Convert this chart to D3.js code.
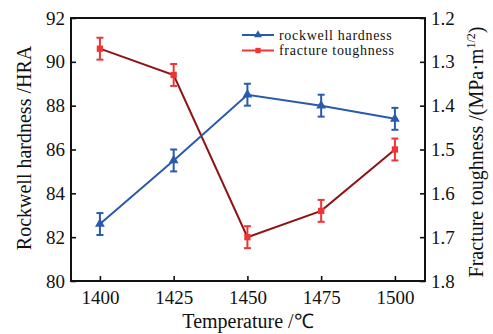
<!DOCTYPE html>
<html>
<head>
<meta charset="utf-8">
<script src="https://cdn.jsdelivr.net/npm/d3@7"></script>
<style>
  html, body { margin: 0; padding: 0; background: #fff; }
  svg { display: block; }
  text { font-family: "Liberation Serif", serif; fill: #111; }
</style>
</head>
<body>
<svg id="chart" width="493" height="334"></svg>
<script>
// Sintering temperature vs. hardness and fracture toughness
const temperatures = [1400, 1425, 1450, 1475, 1500];
const hardness = [82.6, 85.5, 88.5, 88.0, 87.4];
const hardnessErr = [0.5, 0.5, 0.5, 0.5, 0.5];
const toughness = [1.27, 1.33, 1.70, 1.64, 1.50];
const toughnessErr = [0.025, 0.025, 0.025, 0.025, 0.025];
const leftTicks = [80, 82, 84, 86, 88, 90, 92];
const rightTicks = [1.2, 1.3, 1.4, 1.5, 1.6, 1.7, 1.8];
const seriesNames = ["rockwell hardness", "fracture toughness"];

const FONT = '"Liberation Serif", serif';
const svg = d3.select("#chart");
const m = { left: 71, right: 425, top: 18, bottom: 281 };

const x = d3.scaleLinear().domain([1390.2, 1510.2]).range([m.left, m.right]);
const yL = d3.scaleLinear().domain([80, 92]).range([m.bottom, m.top]);
const yR = d3.scaleLinear().domain([1.8, 1.2]).range([m.bottom, m.top]);

const blue = "#2a5aad", red = "#ee3535", darkRed = "#8e1414";

// Axes with inward ticks
const fontSize = "19px";
const gx = svg.append("g").attr("transform", `translate(0,${m.bottom})`)
  .call(d3.axisBottom(x).tickValues(temperatures).tickFormat(d3.format("d"))
    .tickSize(-5).tickPadding(10).tickSizeOuter(0));
const gl = svg.append("g").attr("transform", `translate(${m.left},0)`)
  .call(d3.axisLeft(yL).tickValues(leftTicks).tickSize(-5).tickPadding(6).tickSizeOuter(0));
const gr = svg.append("g").attr("transform", `translate(${m.right},0)`)
  .call(d3.axisRight(yR).tickValues(rightTicks).tickFormat(d3.format(".1f")).tickSize(-5).tickPadding(6).tickSizeOuter(0));
[gx, gl, gr].forEach(g => {
  g.attr("font-family", FONT).attr("font-size", fontSize);
  g.selectAll("path.domain").remove();
  g.selectAll("line").attr("stroke", "#111").attr("stroke-width", 1.6);
  g.selectAll("text").style("font-family", FONT).style("font-size", fontSize).attr("fill", "#111");
});

// Frame
svg.append("rect").attr("x", m.left).attr("y", m.top)
  .attr("width", m.right - m.left).attr("height", m.bottom - m.top)
  .attr("fill", "none").attr("stroke", "#111").attr("stroke-width", 2);

// Axis titles
svg.append("text").attr("x", 248).attr("y", 328).attr("text-anchor", "middle")
  .attr("font-size", "20px").text("Temperature /℃");
svg.append("text").attr("transform", `translate(31,148) rotate(-90)`).attr("text-anchor", "middle")
  .attr("font-size", "20px").text("Rockwell hardness /HRA");
const rt = svg.append("text").attr("transform", `translate(483,152) rotate(-90)`).attr("text-anchor", "middle")
  .attr("font-size", "20px");
rt.append("tspan").text("Fracture toughness /(MPa·m");
rt.append("tspan").attr("font-size", "12px").attr("dy", -8).text("1/2");
rt.append("tspan").attr("dy", 8).text(")");

// Series drawing
function drawSeries(vals, errs, y, lineColor, markColor, shape) {
  const g = svg.append("g");
  g.append("path").datum(vals)
    .attr("fill", "none").attr("stroke", lineColor).attr("stroke-width", 2)
    .attr("d", d3.line().x((d, i) => x(temperatures[i])).y(d => y(d)));
  vals.forEach((v, i) => {
    const cx = x(temperatures[i]);
    const y0 = y(v - errs[i]), y1 = y(v + errs[i]);
    g.append("line").attr("x1", cx).attr("x2", cx).attr("y1", y0).attr("y2", y1)
      .attr("stroke", markColor).attr("stroke-width", 2);
    [y0, y1].forEach(yy => g.append("line").attr("x1", cx - 3.5).attr("x2", cx + 3.5)
      .attr("y1", yy).attr("y2", yy).attr("stroke", markColor).attr("stroke-width", 2));
  });
  g.selectAll("path.mk").data(vals).enter().append("path").attr("class", "mk")
    .attr("transform", (d, i) => `translate(${x(temperatures[i])},${y(d)})`)
    .attr("d", d3.symbol().type(shape).size(shape === d3.symbolTriangle ? 42 : 40))
    .attr("fill", markColor);
}
drawSeries(toughness, toughnessErr, yR, darkRed, red, d3.symbolSquare);
drawSeries(hardness, hardnessErr, yL, blue, blue, d3.symbolTriangle);

// Legend
const legend = [
  { label: seriesNames[0], line: blue, mark: blue, shape: d3.symbolTriangle },
  { label: seriesNames[1], line: red, mark: red, shape: d3.symbolSquare }
];
legend.forEach((it, i) => {
  const yy = 35 + i * 15.5;
  svg.append("line").attr("x1", 242).attr("x2", 274).attr("y1", yy).attr("y2", yy)
    .attr("stroke", it.line).attr("stroke-width", 2);
  svg.append("path").attr("transform", `translate(258,${yy})`)
    .attr("d", d3.symbol().type(it.shape).size(28)).attr("fill", it.mark);
  svg.append("text").attr("x", 279).attr("y", yy + 4.5).attr("font-size", "14px")
    .attr("letter-spacing", "0.7px").text(it.label);
});
</script>
</body>
</html>
